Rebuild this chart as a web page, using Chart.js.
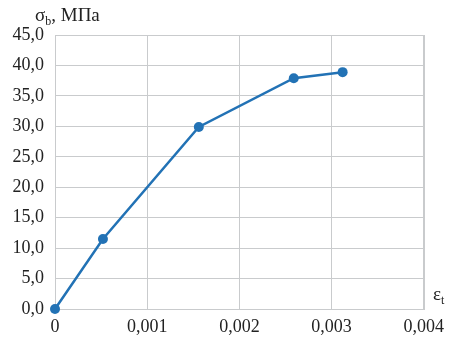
<!DOCTYPE html>
<html>
<head>
<meta charset="utf-8">
<script src="https://cdn.jsdelivr.net/npm/chart.js@4/dist/chart.umd.min.js"></script>
<style>
  html, body { margin: 0; padding: 0; background: #fff; }
  #wrap { position: relative; width: 451px; height: 340px; }
  canvas { position: absolute; left: 0; top: 0; }
  .lbl { position: absolute; font-family: "Liberation Serif", "Times New Roman", serif; font-size: 19px; color: #222; white-space: nowrap; line-height: 1; }
  .lbl sub { font-size: 12px; vertical-align: -4px; line-height: 0; }
</style>
</head>
<body>
<div id="wrap">
  <canvas id="c" width="451" height="340"></canvas>
  <div class="lbl" style="left:35px; top:5px;">σ<sub>b</sub>, МПа</div>
  <div class="lbl" style="left:433px; top:284px;">ε<sub>t</sub></div>
</div>
<script>
const strainValues = [0, 0.00052, 0.00156, 0.00259, 0.00312];
const stressValues = [0, 11.5, 29.9, 37.9, 38.9];
const xTicks = [0, 0.001, 0.002, 0.003, 0.004];
const yTicks = [0, 5, 10, 15, 20, 25, 30, 35, 40, 45];

const points = strainValues.map((x, i) => ({ x: x, y: stressValues[i] }));
const fontFamily = '"Liberation Serif", "Times New Roman", serif';
const gridColor = '#c9cbcd';

new Chart(document.getElementById('c'), {
  type: 'line',
  data: {
    datasets: [{
      data: points,
      borderColor: '#2272b5',
      backgroundColor: '#2272b5',
      borderWidth: 2.5,
      pointRadius: 5,
      pointBorderWidth: 0,
      pointHoverRadius: 5,
      tension: 0,
      fill: false,
      clip: false
    }]
  },
  options: {
    responsive: false,
    animation: false,
    layout: { padding: { top: 35, right: 25, left: 0, bottom: 0 } },
    plugins: { legend: { display: false }, tooltip: { enabled: false } },
    scales: {
      x: {
        type: 'linear',
        min: xTicks[0],
        max: xTicks[xTicks.length - 1],
        afterBuildTicks: (axis) => { axis.ticks = xTicks.map(v => ({ value: v })); },
        afterFit: (axis) => { axis.height = 31; },
        grid: { color: gridColor, lineWidth: 1, drawTicks: false },
        border: { color: gridColor, width: 1 },
        ticks: {
          color: '#222',
          padding: 7,
          maxRotation: 0,
          font: { family: fontFamily, size: 18 },
          callback: (v) => v === 0 ? '0' : Number(v).toFixed(3).replace('.', ',')
        }
      },
      y: {
        type: 'linear',
        min: yTicks[0],
        max: yTicks[yTicks.length - 1],
        afterBuildTicks: (axis) => { axis.ticks = yTicks.map(v => ({ value: v })); },
        afterFit: (axis) => { axis.width = 55; },
        grid: { color: gridColor, lineWidth: 1, drawTicks: false },
        border: { color: gridColor, width: 1 },
        ticks: {
          color: '#222',
          padding: 11,
          font: { family: fontFamily, size: 18 },
          callback: (v) => Number(v).toFixed(1).replace('.', ',')
        }
      }
    }
  },
  plugins: [{
    id: 'frame',
    beforeDatasetsDraw(chart) {
      const { ctx, chartArea: a } = chart;
      ctx.save();
      ctx.strokeStyle = gridColor;
      ctx.lineWidth = 1;
      ctx.strokeRect(Math.round(a.left) + 0.5, Math.round(a.top) + 0.5, Math.round(a.right - a.left), Math.round(a.bottom - a.top));
      ctx.restore();
    }
  }]
});
</script>
</body>
</html>
